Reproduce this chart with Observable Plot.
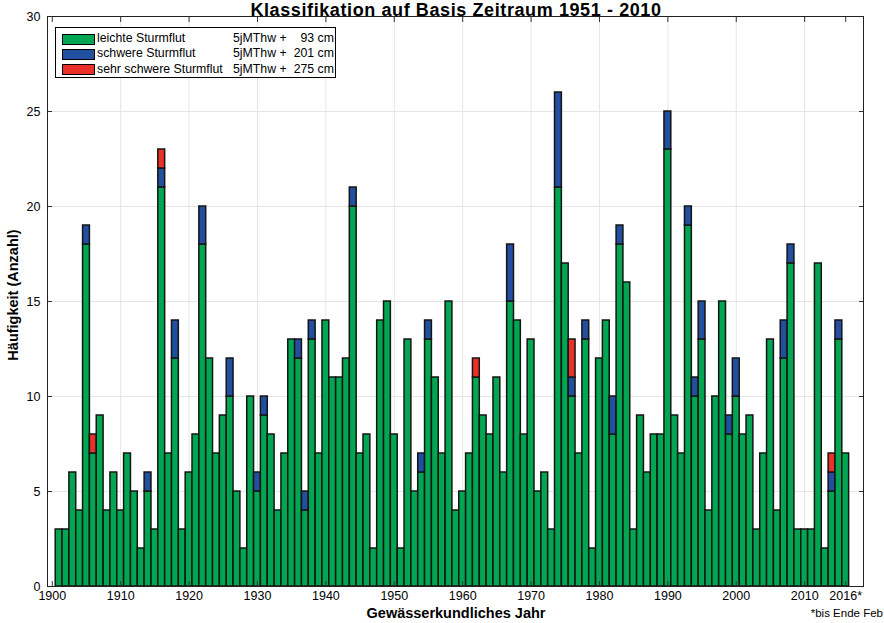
<!DOCTYPE html>
<html>
<head>
<meta charset="utf-8">
<script src="https://cdn.jsdelivr.net/npm/d3@7"></script>
<script src="https://cdn.jsdelivr.net/npm/@observablehq/plot@0.6"></script>
<style>
  html, body { margin: 0; padding: 0; background: #fff; }
  #wrap { position: relative; width: 884px; height: 623px; overflow: hidden; font-family: "Liberation Sans", Arial, sans-serif; color: #000; }
  #wrap svg { position: absolute; left: 0; top: 0; }
  .ov { position: absolute; white-space: nowrap; line-height: 1; }
  .title { font-weight: bold; font-size: 18px; line-height: 20px; letter-spacing: 0.6px; left: 456px; top: 0px; transform: translateX(-50%); }
  .xlabel { font-weight: bold; font-size: 14.5px; left: 456px; top: 605.5px; transform: translateX(-50%); }
  .ylabel { font-weight: bold; font-size: 14.5px; left: 13px; top: 295px; transform: translate(-50%, -50%) rotate(-90deg); }
  .note { font-size: 11.5px; right: 1px; top: 608px; }
  .legend { position: absolute; left: 55px; top: 27px; width: 279px; height: 49px; border: 1px solid #000; background: #fff; font-size: 12.3px; }
  .row { position: absolute; left: 0; width: 279px; height: 15px; line-height: 15px; }
  .sw { position: absolute; left: 6px; top: 2.5px; width: 31px; height: 9px; border: 1px solid #000; }
  .lt { position: absolute; left: 41px; top: 0; }
  .lv { position: absolute; left: 177px; top: 0; }
  .ln { position: absolute; right: 1px; top: 0; }
</style>
</head>
<body>
<div id="wrap"></div>
<script>
const firstYear = 1901;
const lastYear = 2016;
const categories = ["leichte Sturmflut", "schwere Sturmflut", "sehr schwere Sturmflut"];
const thresholds = ["93", "201", "275"];
const colors = ["#00a651", "#234fa0", "#ea3128"];

// leichte Sturmflut, 1901–2016
const leicht = [
  3,3,6,4,18,7,9,4,6,4,
  7,5,2,5,3,21,7,12,3,6,
  8,18,12,7,9,10,5,2,10,5,
  9,8,4,7,13,12,4,13,7,14,
  11,11,12,20,7,8,2,14,15,8,
  2,13,5,6,13,11,7,15,4,5,
  7,11,9,8,11,6,15,14,8,13,
  5,6,3,21,17,10,7,13,2,12,
  14,8,18,16,3,9,6,8,8,23,
  9,7,19,10,13,4,10,15,8,10,
  8,9,3,7,13,4,12,17,3,3,
  3,17,2,5,13,7
];
// schwere Sturmflut, 1901–2016
const schwer = [
  0,0,0,0,1,0,0,0,0,0,
  0,0,0,1,0,1,0,2,0,0,
  0,2,0,0,0,2,0,0,0,1,
  1,0,0,0,0,1,1,1,0,0,
  0,0,0,1,0,0,0,0,0,0,
  0,0,0,1,1,0,0,0,0,0,
  0,0,0,0,0,0,3,0,0,0,
  0,0,0,5,0,1,0,1,0,0,
  0,2,1,0,0,0,0,0,0,2,
  0,0,1,1,2,0,0,0,1,2,
  0,0,0,0,0,0,2,1,0,0,
  0,0,0,1,1,0
];
// sehr schwere Sturmflut, 1901–2016
const sehrSchwer = [
  0,0,0,0,0,1,0,0,0,0,
  0,0,0,0,0,1,0,0,0,0,
  0,0,0,0,0,0,0,0,0,0,
  0,0,0,0,0,0,0,0,0,0,
  0,0,0,0,0,0,0,0,0,0,
  0,0,0,0,0,0,0,0,0,0,
  0,1,0,0,0,0,0,0,0,0,
  0,0,0,0,0,2,0,0,0,0,
  0,0,0,0,0,0,0,0,0,0,
  0,0,0,0,0,0,0,0,0,0,
  0,0,0,0,0,0,0,0,0,0,
  0,0,0,1,0,0
];

const xTicks = [1900,1910,1920,1930,1940,1950,1960,1970,1980,1990,2000,2010,2016];
const xGrid = [1910,1920,1930,1940,1950,1960,1970,1980,1990,2000,2010];
const yTicks = [0,5,10,15,20,25,30];
const yGrid = [5,10,15,20,25];

const years = d3.range(firstYear, lastYear + 1);
const series = [leicht, schwer, sehrSchwer];
const table = [];
years.forEach((year, i) => {
  series.forEach((s, k) => {
    if (s[i] > 0) table.push({year, cat: categories[k], value: s[i]});
  });
});

const chart = Plot.plot({
  width: 884,
  height: 623,
  marginLeft: 47,
  marginRight: 21,
  marginTop: 16,
  marginBottom: 37,
  x: {domain: [1899.3, 2018.6]},
  y: {domain: [0, 30]},
  color: {domain: categories, range: colors},
  style: {fontFamily: "'Liberation Sans', Arial, sans-serif", fontSize: "12.5px", background: "white", color: "black", overflow: "visible"},
  marks: [
    Plot.gridY(yGrid, {stroke: "#e6e6e6", strokeOpacity: 1}),
    Plot.gridX(xGrid, {stroke: "#e6e6e6", strokeOpacity: 1}),
    Plot.rectY(table, {
      x1: d => d.year - 0.5,
      x2: d => d.year + 0.5,
      y: "value",
      fill: "cat",
      stroke: "#141414",
      strokeWidth: 1.5
    }),
    Plot.axisY({ticks: yTicks, anchor: "left", tickSize: -5, tickPadding: 12, label: null, stroke: "#333"}),
    Plot.axisY({ticks: yTicks, anchor: "right", tickSize: -5, tickFormat: () => "", label: null, stroke: "#333"}),
    Plot.axisX({ticks: xTicks, anchor: "bottom", tickSize: -5, tickPadding: 10, label: null, stroke: "#333",
      tickFormat: d => d === 2016 ? "2016*" : String(d)}),
    Plot.axisX({ticks: xTicks, anchor: "top", tickSize: -5, tickFormat: () => "", label: null, stroke: "#333"}),
    Plot.frame({stroke: "#222", strokeWidth: 1})
  ]
});

const wrap = document.getElementById("wrap");
wrap.appendChild(chart);

function addDiv(cls, text, parent = wrap) {
  const d = document.createElement("div");
  d.className = cls;
  d.textContent = text;
  parent.appendChild(d);
  return d;
}
addDiv("ov title", "Klassifikation auf Basis Zeitraum 1951 - 2010");
addDiv("ov xlabel", "Gewässerkundliches Jahr");
addDiv("ov ylabel", "Häufigkeit (Anzahl)");
addDiv("ov note", "*bis Ende Feb");

const legend = document.createElement("div");
legend.className = "legend";
wrap.appendChild(legend);
const rowTops = [3, 18, 33.5];
categories.forEach((c, k) => {
  const row = document.createElement("div");
  row.className = "row";
  row.style.top = rowTops[k] + "px";
  const sw = document.createElement("div");
  sw.className = "sw";
  sw.style.background = colors[k];
  row.appendChild(sw);
  addDiv("lt", c, row);
  addDiv("lv", "5jMThw +", row);
  addDiv("ln", thresholds[k] + " cm", row);
  legend.appendChild(row);
});
</script>
</body>
</html>
